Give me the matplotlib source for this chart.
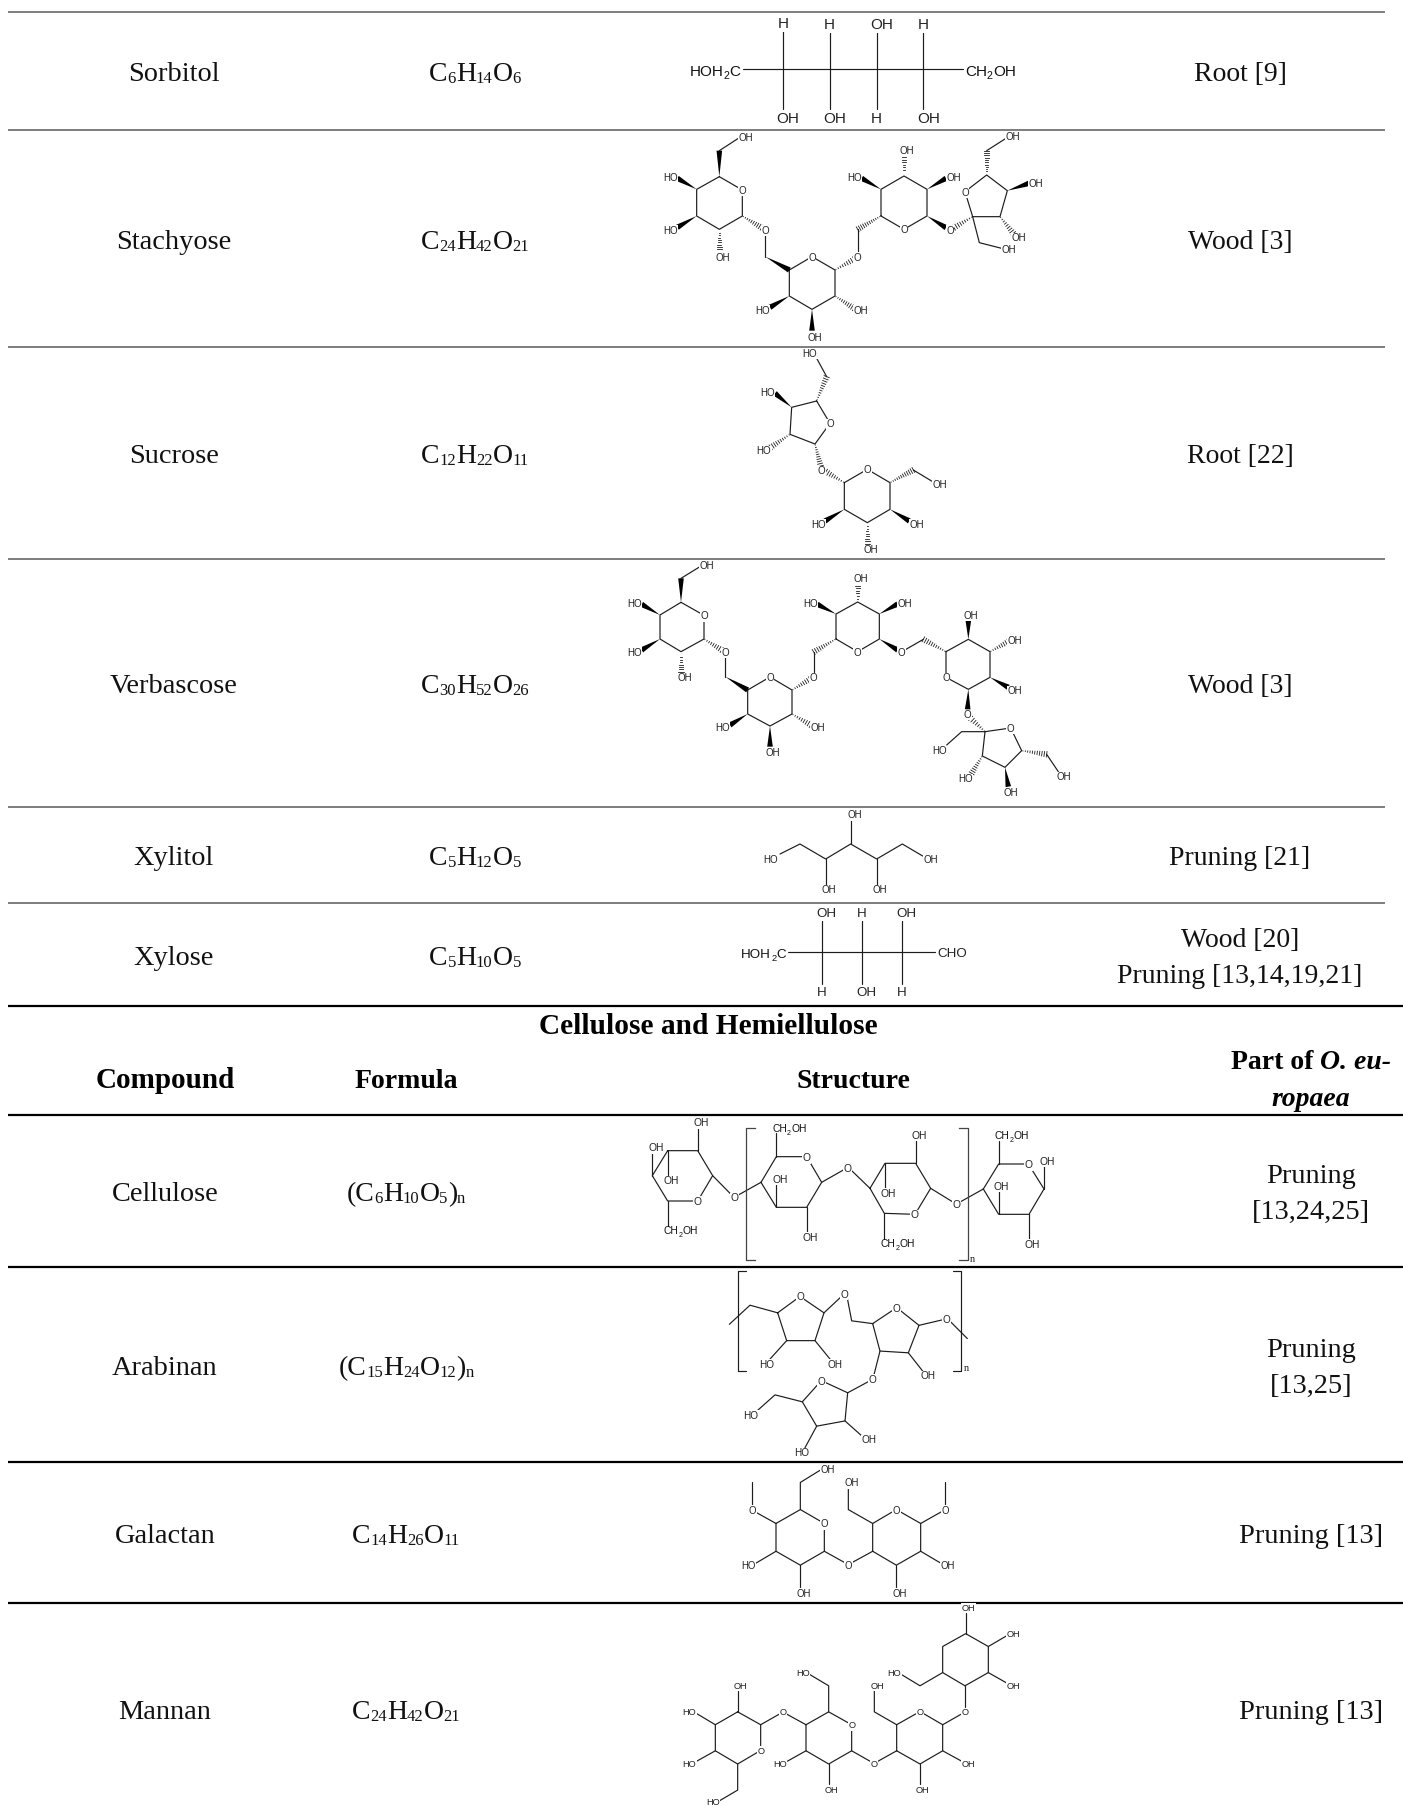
import matplotlib
matplotlib.use("Agg")
import matplotlib.pyplot as plt
import numpy as np
from matplotlib.font_manager import FontProperties as FP

SERIF = "Liberation Serif"
SANS = "Liberation Sans"
W, H = 1403, 1805
INK = "#1c1c1c"

# ---- table content ----
upper_compounds = ["Sorbitol", "Stachyose", "Sucrose", "Verbascose", "Xylitol", "Xylose"]
upper_formulas = [[("C",0),("6",1),("H",0),("14",1),("O",0),("6",1)],
                  [("C",0),("24",1),("H",0),("42",1),("O",0),("21",1)],
                  [("C",0),("12",1),("H",0),("22",1),("O",0),("11",1)],
                  [("C",0),("30",1),("H",0),("52",1),("O",0),("26",1)],
                  [("C",0),("5",1),("H",0),("12",1),("O",0),("5",1)],
                  [("C",0),("5",1),("H",0),("10",1),("O",0),("5",1)]]
upper_parts = [["Root [9]"], ["Wood [3]"], ["Root [22]"], ["Wood [3]"], ["Pruning [21]"],
               ["Wood [20]", "Pruning [13,14,19,21]"]]
upper_y = [72, 240, 454, 684, 856, 956]

lower_compounds = ["Cellulose", "Arabinan", "Galactan", "Mannan"]
lower_formulas = [[("(C",0),("6",1),("H",0),("10",1),("O",0),("5",1),(")",0),("n",1)],
                  [("(C",0),("15",1),("H",0),("24",1),("O",0),("12",1),(")",0),("n",1)],
                  [("C",0),("14",1),("H",0),("26",1),("O",0),("11",1)],
                  [("C",0),("24",1),("H",0),("42",1),("O",0),("21",1)]]
lower_parts = [["Pruning", "[13,24,25]"], ["Pruning", "[13,25]"], ["Pruning [13]"], ["Pruning [13]"]]
lower_y = [1192, 1366, 1534, 1710]

section_title = "Cellulose and Hemiellulose"
headers = ["Compound", "Formula", "Structure"]
header_pts = [21, 20, 20]
grey_rules = [12, 130, 347, 559, 807, 903]
black_rules = [1006, 1115, 1267, 1462, 1603]

# ---- molecule drawings ----
Z1 = (600, 0, 3, 3)
Z2 = (600, 340, 3, 3)
Z3 = (600, 800, 3, 3)
Z4 = (600, 1260, 3, 2.877)

sorbitol = dict(z=Z1, pt=11,
    bonds=[[(430,208),(1088,208)],[(549,93),(549,326)],[(689,93),(689,326)],[(830,93),(830,326)],[(970,93),(970,326)]],
    labels=[("H",549,68),("H",689,70),("OH",846,70),("H",970,70),("OH",564,352),("OH",705,352),("H",830,352),("OH",986,352)],
    rich=[([("HOH",0),("2",1),("C",0)],346,211),([("CH",0),("2",1),("OH",0)],1171,211)])

stachyose = dict(z=Z1, pt=7.0,
    bonds=[[(358,530),(427,570),(427,648),(358,688),(290,648),(290,568),(358,530)],
           [(358,452),(415,415)],[(496,705),(496,770)],
           [(568,810),(636,770),(705,810),(705,888),(636,928),(568,888),(568,810)],
           [(773,755),(773,688)],
           [(843,648),(843,568),(912,528),(981,568),(981,648),(912,688),(843,648)],
           [(1118,650),(1095,575),(1160,525),(1222,572),(1200,650),(1118,650)],
           [(1160,452),(1218,415)],[(1118,650),(1138,728),(1205,745)]],
    wedges=[[(358,530),(358,452)],[(290,568),(232,535)],[(290,648),(232,682)],[(496,770),(568,810)],
            [(568,888),(510,922)],[(636,928),(636,992)],[(843,568),(785,535)],[(981,568),(1038,535)],
            [(981,648),(1038,683)],[(1222,572),(1287,550)]],
    hashes=[[(358,688),(358,755)],[(427,648),(485,683)],[(705,810),(762,778)],[(843,648),(773,688)],
            [(705,888),(762,925)],[(912,528),(912,465)],[(1118,650),(1062,683)],[(1160,525),(1160,452)],
            [(1200,650),(1240,700)]],
    labels=[("O",427,570),("OH",437,410),("HO",212,530),("HO",212,689),("OH",368,770),("O",496,689),
            ("O",636,770),("O",773,770),("HO",488,929),("OH",645,1010),("OH",783,929),("O",912,688),
            ("HO",764,530),("OH",921,449),("OH",1060,530),("O",1050,689),("O",1095,575),("OH",1238,407),
            ("OH",1308,548),("OH",1255,712),("OH",1226,746)])

sucrose = dict(z=Z2, pt=7.0,
    bonds=[[(650,183),(690,250),(645,312),(570,283),(575,202),(650,183)],[(680,110),(650,55)],
           [(733,428),(802,388),(870,428),(870,508),(802,548),(733,508),(733,428)],[(940,390),(998,425)]],
    wedges=[[(575,202),(525,160)],[(870,508),(928,543)],[(733,508),(675,543)]],
    hashes=[[(650,183),(680,110)],[(570,283),(512,322)],[(645,312),(662,378)],[(733,428),(678,395)],
            [(870,428),(940,390)],[(802,548),(802,612)]],
    labels=[("O",690,250),("HO",630,38),("HO",503,156),("HO",492,330),("O",665,390),("O",802,388),
            ("OH",1018,431),("OH",950,551),("OH",811,628),("HO",655,551)])

verbascose = dict(z=Z2, pt=7.0,
    bonds=[[(243,787),(312,826),(312,897),(243,935),(180,897),(180,825),(243,787)],[(243,715),(300,680)],
           [(376,950),(376,1010)],
           [(443,1050),(510,1011),(576,1050),(576,1122),(510,1158),(443,1122),(443,1050)],[(641,995),(641,936)],
           [(708,897),(708,822),(773,786),(838,822),(838,897),(773,935),(708,897)],[(918,928),(970,898)],
           [(1038,935),(1105,898),(1170,935),(1170,1012),(1105,1048),(1038,1012),(1038,935)],
           [(1155,1175),(1232,1164),(1265,1232),(1215,1282),(1147,1248),(1155,1175)],
           [(1155,1175),(1085,1175),(1040,1215)],[(1340,1243),(1375,1295)]],
    wedges=[[(243,787),(243,715)],[(180,825),(125,793)],[(180,897),(125,930)],[(376,1010),(443,1050)],
            [(443,1122),(390,1155)],[(510,1158),(510,1220)],[(708,822),(652,793)],[(838,822),(893,792)],
            [(838,897),(893,930)],[(1105,898),(1105,842)],[(1170,1012),(1225,1042)],[(1105,1048),(1103,1108)],
            [(1215,1282),(1225,1340)]],
    hashes=[[(243,935),(243,995)],[(312,897),(365,930)],[(576,1050),(630,1018)],[(708,897),(641,936)],
            [(576,1122),(632,1155)],[(773,786),(773,730)],[(1038,935),(970,898)],[(1170,935),(1225,905)],
            [(1155,1175),(1112,1135)],[(1147,1248),(1115,1300)],[(1265,1232),(1340,1243)]],
    labels=[("O",312,826),("OH",320,675),("HO",104,789),("HO",104,935),("OH",254,1011),("O",376,936),
            ("O",510,1011),("O",641,1011),("HO",368,1160),("OH",519,1236),("OH",652,1160),("O",773,935),
            ("HO",632,789),("OH",783,714),("OH",914,789),("O",905,935),("O",1038,1012),("OH",1112,825),
            ("OH",1244,900),("OH",1244,1050),("O",1102,1122),("O",1232,1164),("HO",1018,1230),
            ("HO",1097,1314),("OH",1233,1355),("OH",1390,1308)])

xylitol = dict(z=Z3, pt=7.0,
    bonds=[[(540,162),(600,132),(677,177),(752,132),(830,177),(907,132),(968,168)],
           [(677,177),(677,255)],[(830,177),(830,255)],[(752,132),(752,58)]],
    labels=[("HO",512,178),("OH",993,178),("OH",686,268),("OH",840,268),("OH",763,43)])

xylose = dict(z=Z3, pt=9.6,
    bonds=[[(565,456),(1005,456)],[(665,358),(665,552)],[(785,358),(785,552)],[(906,358),(906,552)]],
    labels=[("OH",679,337),("H",785,337),("OH",920,337),("H",665,576),("OH",800,576),("H",905,576),("CHO",1056,457)],
    rich=[([("HOH",0),("2",1),("C",0)],491,459)])

cellulose = dict(z=Z3, pt=7.4,
    bonds=[[(203,1052),(293,1052),(338,1127),(293,1203),(203,1203),(157,1127),(203,1052)],
           [(293,1052),(293,985)],[(157,1127),(157,1058)],[(203,1052),(203,1125)],[(203,1203),(203,1278)],
           [(338,1127),(390,1180)],[(415,1185),(483,1147)],
           [(483,1147),(529,1070),(620,1070),(665,1147),(620,1222),(529,1222),(483,1147)],
           [(529,1070),(529,1000)],[(529,1222),(529,1150)],[(620,1222),(620,1295)],
           [(665,1147),(730,1110)],[(755,1112),(810,1165)],
           [(810,1165),(855,1090),(947,1090),(992,1165),(945,1243),(853,1240),(810,1165)],
           [(947,1090),(947,1020)],[(855,1090),(855,1163)],[(853,1240),(853,1317)],
           [(992,1165),(1057,1205)],[(1082,1205),(1150,1167)],
           [(1150,1167),(1196,1092),(1285,1092),(1332,1167),(1287,1243),(1196,1243),(1150,1167)],
           [(1196,1092),(1196,1022)],[(1196,1243),(1196,1172)],[(1332,1167),(1332,1097)],[(1287,1243),(1287,1316)]],
    grey=[[(465,985),(437,985),(437,1380),(465,1380)],[(1077,985),(1105,985),(1105,1380),(1077,1380)]],
    labels=[("O",293,1203),("OH",305,967),("OH",168,1042),("OH",214,1141),("O",403,1192),("O",620,1072),
            ("OH",540,1136),("OH",630,1310),("O",743,1103),("O",943,1243),("OH",958,1004),("OH",866,1178),
            ("O",1069,1213),("O",1285,1093),("OH",1205,1157),("OH",1343,1082),("OH",1297,1331)],
    rich=[([("CH",0),("2",1),("OH",0)],243,1292),([("CH",0),("2",1),("OH",0)],568,986),
          ([("CH",0),("2",1),("OH",0)],893,1331),([("CH",0),("2",1),("OH",0)],1235,1007)],
    serif=[("n",1116,1378)])

arabinan = dict(z=Z4, pt=7.2,
    bonds=[[(533,152),(600,105),(672,152),(645,232),(560,232),(533,152)],[(388,185),(450,130),(533,152)],
           [(672,152),(722,107)],[(742,110),(755,175),(818,183)],[(560,232),(510,285)],[(645,232),(690,285)],
           [(818,183),(890,137),(957,188),(925,267),(840,262),(818,183)],[(957,188),(1028,172)],
           [(1052,178),(1102,226)],[(925,267),(970,322)],[(840,262),(822,330)],[(805,350),(743,382)],
           [(743,382),(664,347),(607,408),(650,478),(735,463),(743,382)],[(607,408),(525,388),(470,435)],
           [(735,463),(790,510)],[(650,478),(615,540)],
           [(438,33),(415,33),(415,320),(438,320)],[(1060,33),(1082,33),(1082,320),(1060,320)]],
    labels=[("O",600,105),("O",732,97),("HO",500,298),("OH",705,298),("O",890,137),("O",1040,170),
            ("OH",984,332),("O",817,342),("O",664,347),("HO",452,445),("OH",806,516),("HO",605,553)],
    serif=[("n",1098,313)])

galactan = dict(z=Z4, pt=6.9,
    bonds=[[(528,758),(601,718),(673,758),(673,838),(601,878),(528,838),(528,758)],[(457,640),(457,705)],
           [(470,727),(528,758)],[(601,718),(601,640),(660,605)],[(528,838),(468,872)],[(601,878),(601,942)],
           [(673,838),(733,870)],[(757,870),(818,838)],
           [(818,838),(818,758),(889,718),(962,758),(962,838),(889,878),(818,838)],
           [(818,758),(745,718),(745,655)],[(962,758),(1023,725)],[(1035,705),(1035,640)],
           [(962,838),(1022,872)],[(889,878),(889,942)]],
    labels=[("O",457,718),("O",673,758),("OH",682,600),("HO",446,878),("OH",611,957),("O",745,878),
            ("OH",755,640),("O",889,718),("O",1035,718),("OH",1044,878),("OH",900,957)])

mannan = dict(z=Z4, pt=6.7,
    bonds=[[(413,1300),(482,1337),(482,1411),(413,1450),(346,1412),(346,1337),(413,1300)],[(413,1300),(413,1240)],
           [(346,1337),(290,1305)],[(346,1412),(290,1442)],[(413,1450),(413,1525),(360,1555)],
           [(482,1337),(537,1307)],[(561,1307),(618,1337)],
           [(618,1337),(686,1300),(755,1337),(755,1412),(686,1450),(618,1412),(618,1337)],
           [(686,1300),(686,1225),(630,1193)],[(618,1412),(562,1442)],[(686,1450),(686,1508)],
           [(755,1412),(810,1442)],[(834,1442),(890,1412)],
           [(890,1412),(890,1337),(960,1299),(1028,1337),(1028,1412),(960,1450),(890,1412)],
           [(890,1337),(823,1300),(823,1240)],[(1028,1337),(1083,1307)],[(1095,1285),(1095,1225)],
           [(1028,1412),(1085,1442)],[(960,1450),(960,1508)],
           [(1095,1225),(1165,1187),(1165,1112),(1097,1075),(1028,1112),(1028,1187),(1095,1225)],
           [(1028,1187),(960,1225),(905,1193)],[(1165,1187),(1222,1218)],[(1165,1112),(1222,1080)],
           [(1097,1075),(1097,1015)]],
    labels=[("OH",421,1224),("HO",268,1299),("HO",268,1449),("O",482,1411),("HO",338,1558),("O",549,1300),
            ("HO",609,1187),("O",755,1337),("HO",540,1449),("OH",694,1523),("O",822,1449),("O",960,1299),
            ("OH",833,1224),("O",1095,1299),("OH",1105,1449),("OH",968,1523),("HO",883,1187),
            ("OH",1241,1224),("OH",1241,1074),("OH",1105,999)])

molecules = [sorbitol, stachyose, sucrose, verbascose, xylitol, xylose, cellulose, arabinan, galactan, mannan]

# ---- drawing ----
fig = plt.figure(figsize=(W / 100, H / 100), dpi=100, facecolor="white")
ax = fig.add_axes([0, 0, 1, 1])
ax.set_xlim(0, W)
ax.set_ylim(H, 0)
ax.axis("off")
renderer = fig.canvas.get_renderer()


def width(s, fp):
    return renderer.get_text_width_height_descent(s, fp, False)[0]


def rich(segments, xc, baseline, family, pt, sub_ratio=0.6, drop=0.1, **kw):
    """Draw text runs with subscripts, centred on xc."""
    base = FP(family=family, size=pt, **kw)
    sub = FP(family=family, size=pt * sub_ratio, **kw)
    ws = [width(s, sub if isub else base) for s, isub in segments]
    x = xc - sum(ws) / 2
    for (s, isub), w in zip(segments, ws):
        ax.text(x, baseline + (pt * drop * 1.39 if isub else 0), s, fontproperties=sub if isub else base,
                ha="left", va="baseline", color="#111111", zorder=6)
        x += w


def draw_mol(m):
    ox, oy, sx, sy = m["z"]
    P = lambda p: (ox + p[0] / sx, oy + p[1] / sy)
    for seg in m.get("bonds", []):
        pts = np.array([P(p) for p in seg])
        ax.plot(pts[:, 0], pts[:, 1], color=INK, lw=0.85, solid_capstyle="round", solid_joinstyle="round", zorder=2)
    for seg in m.get("grey", []):
        pts = np.array([P(p) for p in seg])
        ax.plot(pts[:, 0], pts[:, 1], color="#444444", lw=0.9, zorder=2)
    for a, b in m.get("wedges", []):
        a, b = np.array(P(a)), np.array(P(b))
        d = b - a
        n = np.array([-d[1], d[0]]) / np.hypot(*d)
        ax.fill(*zip(a, b + n * 2.8, b - n * 2.8), color="black", lw=0, zorder=2)
    for a, b in m.get("hashes", []):
        a, b = np.array(P(a)), np.array(P(b))
        d = b - a
        L = np.hypot(*d)
        n = np.array([-d[1], d[0]]) / L
        for t in np.linspace(0.05, 1, max(int(L / 2.2), 4)):
            c = a + d * t
            h = 2.8 * t
            ax.plot([c[0] - n[0] * h, c[0] + n[0] * h], [c[1] - n[1] * h, c[1] + n[1] * h],
                    color=INK, lw=0.6, zorder=2)
    for s, x, y in m.get("labels", []):
        px, py = P((x, y))
        ax.text(px, py, s, family=SANS, fontsize=m["pt"], ha="center", va="center_baseline", color="#222222", zorder=5,
                bbox=dict(boxstyle="square,pad=0.05", fc="white", ec="none"))
    for segs, x, y in m.get("rich", []):
        px, py = P((x, y))
        rich(segs, px, py + m["pt"] * 0.5, SANS, m["pt"], sub_ratio=0.7, drop=0.22)
    for s, x, y in m.get("serif", []):
        px, py = P((x, y))
        ax.text(px, py, s, family=SERIF, fontsize=7.5, ha="center", va="center", color="#222222", zorder=5)


for m in molecules:
    draw_mol(m)

for y in grey_rules:
    ax.plot([8, 1385], [y, y], color="#808080", lw=1.44, solid_capstyle="butt", zorder=3)
for y in black_rules:
    ax.plot([8, W], [y, y], color="black", lw=1.6, solid_capstyle="butt", zorder=3)

PT = 20.4
COLOR = "#111111"
BASE = 9  # baseline offset under row centre


def body(s, x, y, pt=PT):
    ax.text(x, y + BASE, s, family=SERIF, fontsize=pt, ha="center", va="baseline", color=COLOR, zorder=6)


for name, f, parts, y in zip(upper_compounds, upper_formulas, upper_parts, upper_y):
    body(name, 174, y)
    rich(f, 475, y + BASE, SERIF, 20, drop=0.06)
    for i, p in enumerate(parts):
        body(p, 1240, y + (i - (len(parts) - 1) / 2) * 36, 20)

for name, f, parts, y in zip(lower_compounds, lower_formulas, lower_parts, lower_y):
    body(name, 165, y)
    rich(f, 406, y + BASE, SERIF, 20, drop=0.06)
    for i, p in enumerate(parts):
        body(p, 1311, y + (i - (len(parts) - 1) / 2) * 36, 20.4)

ax.text(708, 1025 + BASE, section_title, family=SERIF, fontsize=21.2, weight="bold", ha="center", va="baseline", color="black", zorder=6)
for s, x, pt in zip(headers, [165, 406, 853], header_pts):
    ax.text(x, 1079 + BASE, s, family=SERIF, fontsize=pt, weight="bold", ha="center", va="baseline", color="black", zorder=6)

# "Part of O. eu- / ropaea" mixes bold upright and bold italic
bf = FP(family=SERIF, size=20, weight="bold")
bi = FP(family=SERIF, size=20, weight="bold", style="italic")
line1 = [("Part of ", bf), ("O. eu-", bi)]
x = 1311 - sum(width(s, fp) for s, fp in line1) / 2
for s, fp in line1:
    ax.text(x, 1060 + BASE, s, fontproperties=fp, ha="left", va="baseline", color="black", zorder=6)
    x += width(s, fp)
ax.text(1311, 1097 + BASE, "ropaea", fontproperties=bi, ha="center", va="baseline", color="black", zorder=6)

fig.savefig("out.png", dpi=100, facecolor="white")
